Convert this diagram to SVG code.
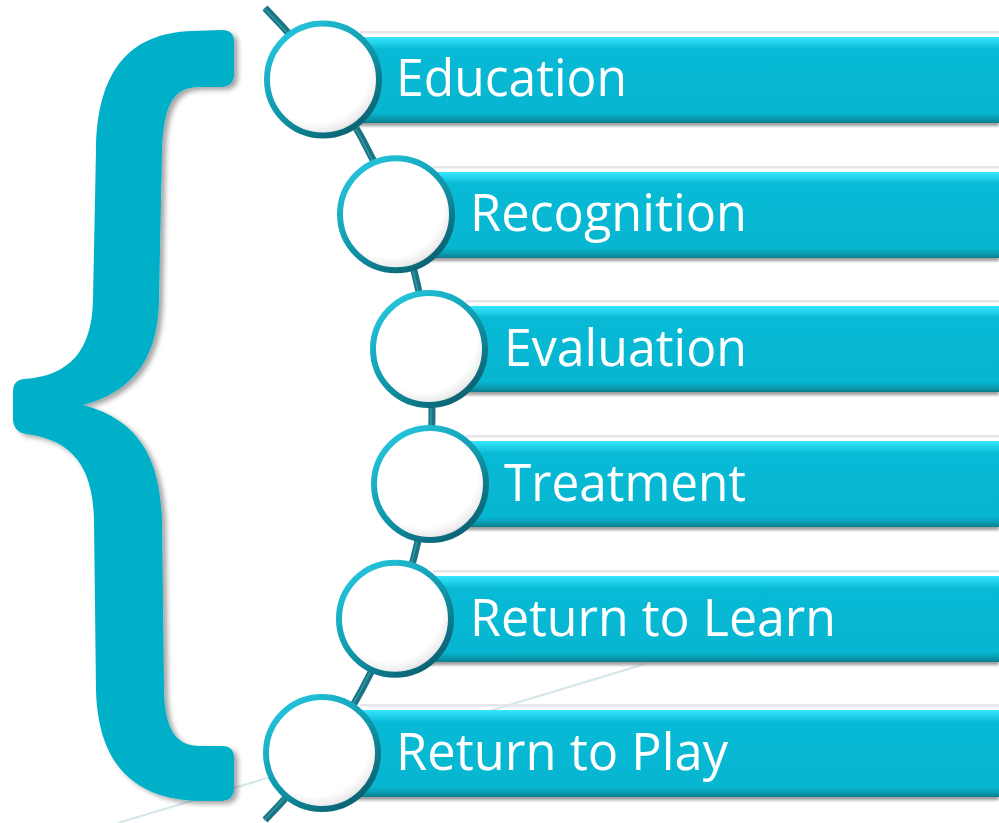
<svg xmlns="http://www.w3.org/2000/svg" width="999" height="823" viewBox="0 0 999 823">
<defs>
<style>
.bar{fill:url(#barGrad)}
.barTopLine{fill:#e4e6e7}
.barShadow{fill:#9a9a9a;filter:url(#blur2)}
.ring{fill:url(#discGrad);stroke:url(#ringGrad);stroke-width:6}
.label{font-family:"Open Sans","Noto Sans","Liberation Sans",sans-serif;font-size:51px;fill:#ffffff}
.spine{fill:none;stroke:#1a7483;stroke-width:7;stroke-linecap:butt}
.spineHi{fill:none;stroke:#2f98a8;stroke-width:1.5}
</style>
<linearGradient id="barGrad" x1="0" y1="0" x2="0" y2="1">
<stop offset="0" stop-color="#38e6fb"/>
<stop offset="0.07" stop-color="#22d2ec"/>
<stop offset="0.14" stop-color="#08bad6"/>
<stop offset="0.88" stop-color="#07b6d1"/>
<stop offset="0.95" stop-color="#0a9bb0"/>
<stop offset="1" stop-color="#0b7d8d"/>
</linearGradient>
<radialGradient id="discGrad" cx="0.44" cy="0.4" r="0.62">
<stop offset="0" stop-color="#ffffff"/>
<stop offset="0.78" stop-color="#ffffff"/>
<stop offset="0.92" stop-color="#ececec"/>
<stop offset="1" stop-color="#c4c4c4"/>
</radialGradient>
<linearGradient id="ringGrad" x1="0.2" y1="0.1" x2="0.8" y2="0.95">
<stop offset="0" stop-color="#22c0d8"/>
<stop offset="0.5" stop-color="#1097ab"/>
<stop offset="1" stop-color="#0a6272"/>
</linearGradient>
<filter id="blur2" x="-5%" y="-50%" width="110%" height="200%">
<feGaussianBlur stdDeviation="1.5"/>
</filter>
<filter id="braceShadow" x="-20%" y="-10%" width="140%" height="120%">
<feDropShadow dx="4" dy="3" stdDeviation="2.5" flood-color="#000000" flood-opacity="0.35"/>
</filter>
</defs>

<rect width="999" height="823" fill="#ffffff"/>

<g id="background">
<line x1="118" y1="823" x2="645" y2="664" stroke="#d5e6ea" stroke-width="2"/>
</g>

<g id="brace">
<path filter="url(#braceShadow)" fill="#00afc8" d="M222,30 L192,31 C130,33 97,70 96,150 L93,300 C92,350 70,376 24,379 Q13,380 13,392 L13,420 Q14,432 26,434 C75,440 93,470 94,520 L96,690 C98,770 140,800 200,801 L222,801 Q234,800 234,788 L234,758 Q234,746 222,746 L200,746 C176,746 165,730 164,690 L162,520 C160,460 140,420 83,405 C140,390 158,350 159,300 L162,150 C164,100 176,87 200,87 L222,87 Q234,86 234,74 L234,42 Q234,30 222,30 Z"/>
</g>

<g id="connectors">
<path class="spine" d="M265,8 A577,577 0 0 1 265,820"/>
<path class="spineHi" d="M264,8 A577,577 0 0 1 264,820"/>
</g>

<g id="node-education">
<rect class="barTopLine" x="360" y="31" width="639" height="2.5"/>
<rect class="barShadow" x="345" y="121" width="654" height="5"/>
<rect class="bar" x="323" y="37" width="676" height="86"/>
<circle class="ring" cx="323" cy="79.5" r="56"/>
<text class="label" x="396" y="96" textLength="231" lengthAdjust="spacingAndGlyphs">Education</text>
</g>

<g id="node-recognition">
<rect class="barTopLine" x="433" y="166" width="566" height="2.5"/>
<rect class="barShadow" x="418" y="256" width="581" height="5"/>
<rect class="bar" x="396" y="172" width="603" height="86"/>
<circle class="ring" cx="396" cy="214.3" r="56"/>
<text class="label" x="470" y="231" textLength="277" lengthAdjust="spacingAndGlyphs">Recognition</text>
</g>

<g id="node-evaluation">
<rect class="barTopLine" x="466" y="300" width="533" height="2.5"/>
<rect class="barShadow" x="451" y="390" width="548" height="5"/>
<rect class="bar" x="429" y="306" width="570" height="86"/>
<circle class="ring" cx="429" cy="349" r="56"/>
<text class="label" x="504" y="366" textLength="243" lengthAdjust="spacingAndGlyphs">Evaluation</text>
</g>

<g id="node-treatment">
<rect class="barTopLine" x="466" y="435" width="533" height="2.5"/>
<rect class="barShadow" x="451" y="525" width="548" height="5"/>
<rect class="bar" x="430" y="441" width="569" height="86"/>
<circle class="ring" cx="430" cy="484" r="56"/>
<text class="label" x="504" y="501" textLength="242" lengthAdjust="spacingAndGlyphs">Treatment</text>
</g>

<g id="node-return-to-learn">
<rect class="barTopLine" x="433" y="570" width="566" height="2.5"/>
<rect class="barShadow" x="418" y="660" width="581" height="5"/>
<rect class="bar" x="395" y="576" width="604" height="86"/>
<circle class="ring" cx="395" cy="618.7" r="56"/>
<text class="label" x="470" y="636" textLength="366" lengthAdjust="spacingAndGlyphs">Return to Learn</text>
</g>

<g id="node-return-to-play">
<rect class="barTopLine" x="360" y="704" width="639" height="2.5"/>
<rect class="barShadow" x="345" y="795" width="654" height="5"/>
<rect class="bar" x="322" y="710" width="677" height="87"/>
<circle class="ring" cx="322" cy="753" r="56"/>
<text class="label" x="396" y="770" textLength="332" lengthAdjust="spacingAndGlyphs">Return to Play</text>
</g>
</svg>
